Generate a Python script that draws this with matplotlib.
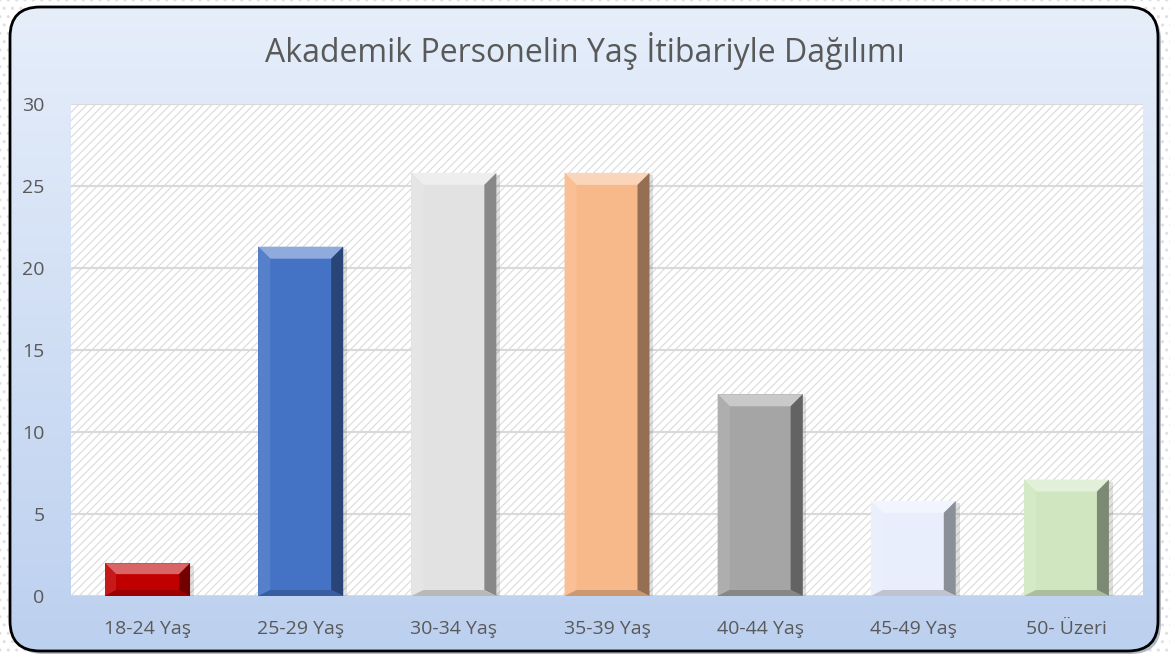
import numpy as np
import matplotlib
matplotlib.use("Agg")
import matplotlib.pyplot as plt
import matplotlib.patches as patches
from matplotlib.colors import to_rgb

# data
categories = ["18-24 Yaş", "25-29 Yaş", "30-34 Yaş", "35-39 Yaş", "40-44 Yaş", "45-49 Yaş", "50- Üzeri"]
values = [2, 21.3, 25.8, 25.8, 12.3, 5.8, 7.1]
bar_colors = ["#c00000", "#4472c4", "#e2e2e2", "#f8b98a", "#a5a5a5", "#e8eefb", "#cfe6c0"]
yticks = [0, 5, 10, 15, 20, 25, 30]
title = "Akademik Personelin Yaş İtibariyle Dağılımı"

plt.rcParams['font.family'] = ['Open Sans', 'DejaVu Sans']
W, H = 1170, 657
fig = plt.figure(figsize=(W / 100, H / 100), dpi=100)

# outer dotted background
bg = fig.add_axes([0, 0, 1, 1])
bg.set_xlim(0, W)
bg.set_ylim(0, H)
bg.axis('off')
plt.rcParams['hatch.color'] = '#dcdcdc'
bg.add_patch(patches.Rectangle((0, 0), W, H, facecolor='white', hatch='..', edgecolor='#e0e0e0', lw=0))

# rounded frame with gradient
frame = patches.FancyBboxPatch((10, 6), 1148, 644, boxstyle="round,pad=0,rounding_size=30",
                               facecolor='none', edgecolor='black', lw=2, zorder=3)
shadow = patches.FancyBboxPatch((13, 3), 1148, 644, boxstyle="round,pad=0,rounding_size=30",
                                facecolor='#7f8da3', edgecolor='none', zorder=1, alpha=0.6)
bg.add_patch(shadow)
grad = np.linspace(0, 1, 256).reshape(-1, 1)
top_c = np.array(to_rgb('#e6eefa'))
bot_c = np.array(to_rgb('#bcd0ef'))
img = top_c[None, None, :] * (1 - grad[:, :, None]) + bot_c[None, None, :] * grad[:, :, None]
im = bg.imshow(img, extent=(10, 1158, 6, 650), origin='upper', aspect='auto', zorder=2)
clip = patches.FancyBboxPatch((10, 6), 1148, 644, boxstyle="round,pad=0,rounding_size=30",
                              transform=bg.transData, facecolor='none', edgecolor='none')
bg.add_patch(clip)
im.set_clip_path(clip)
bg.add_patch(frame)

# plot area
ax = fig.add_axes([71 / W, 61 / H, (1143 - 71) / W, (596 - 104) / H])
ax.set_zorder(5)
ax.set_facecolor('white')
plt.rcParams['hatch.linewidth'] = 0.8
ax.add_patch(patches.Rectangle((0, 0), 1, 1, transform=ax.transAxes, facecolor='white',
                               hatch='////', edgecolor='#dadada', lw=0, zorder=0))

x = np.arange(len(categories))
bw = 0.555
ax.bar(x, values, width=bw, color=bar_colors, zorder=3, edgecolor='none')

ax.set_xlim(-0.5, len(categories) - 0.5)
ax.set_ylim(0, 30)
ax.set_yticks(yticks)
ax.set_xticks(x)
ax.set_xticklabels(categories)
for s in ax.spines.values():
    s.set_visible(False)
ax.tick_params(length=0, labelsize=14, colors='#595959')
ax.tick_params(axis='x', pad=17)
ax.tick_params(axis='y', pad=19)
for yv in yticks:
    ax.axhline(yv, color='#d9d9d9', lw=1.5, zorder=1)

# bevel facets
pxx = (1143 - 71) / 7.0
pxy = (596 - 104) / 30.0
def mix(c, w, a):
    c = np.array(to_rgb(c)); w = np.array(to_rgb(w))
    return tuple(c * (1 - a) + w * a)
for xi, v, c in zip(x, values, bar_colors):
    l, r = xi - bw / 2, xi + bw / 2
    bp = min(12, v * pxy / 3)
    bx, by = bp / pxx, bp / pxy
    bb = min(6, v * pxy / 4) / pxy
    facets = [
        ([(l, v), (r, v), (r - bx, v - by), (l + bx, v - by)], mix(c, 'white', 0.4)),
        ([(l, 0), (l, v), (l + bx, v - by), (l + bx, bb)], mix(c, 'white', 0.1)),
        ([(r, 0), (r, v), (r - bx, v - by), (r - bx, bb)], mix(c, 'black', 0.4)),
        ([(l, 0), (r, 0), (r - bx, bb), (l + bx, bb)], mix(c, 'black', 0.18)),
    ]
    for pts, fc in facets:
        ax.add_patch(patches.Polygon(pts, closed=True, facecolor=fc, edgecolor='none', zorder=4))
    ax.add_patch(patches.Rectangle((l + 0.025, 0), bw, v - 0.15, facecolor='#000000', alpha=0.12,
                                   lw=0, zorder=2))

fig.text(0.5, 0.922, title, ha='center', va='center', fontsize=23, color='#595959', zorder=10)

fig.savefig('out.png', dpi=100)
